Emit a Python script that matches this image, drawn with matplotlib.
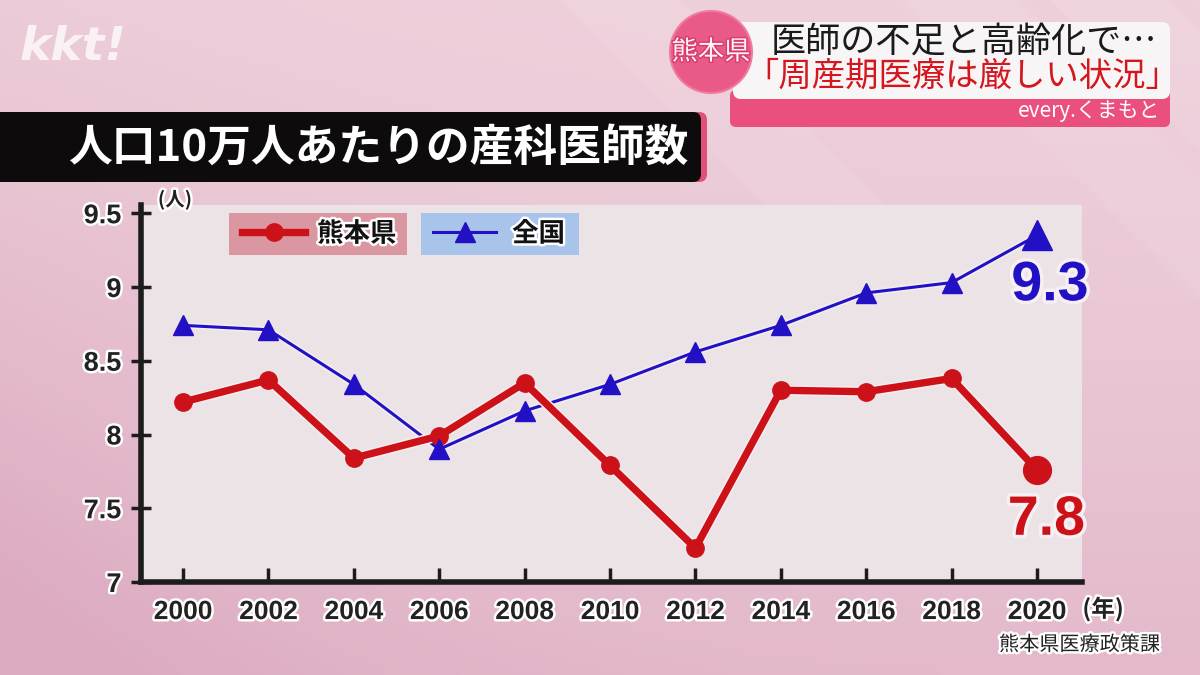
import numpy as np
import matplotlib
matplotlib.use("Agg")
import matplotlib.pyplot as plt
import matplotlib.patheffects as pe
from matplotlib.patches import FancyBboxPatch, Circle, Rectangle

plt.rcParams['font.family'] = ['Noto Sans CJK JP', 'DejaVu Sans']

# data
years = [2000, 2002, 2004, 2006, 2008, 2010, 2012, 2014, 2016, 2018, 2020]
kumamoto = [8.22, 8.37, 7.84, 7.99, 8.35, 7.79, 7.23, 8.30, 8.29, 8.38, 7.76]
national = [8.74, 8.71, 8.34, 7.90, 8.16, 8.34, 8.56, 8.74, 8.96, 9.03, 9.35]
yticks = [7, 7.5, 8, 8.5, 9, 9.5]
ytick_labels = ["7", "7.5", "8", "8.5", "9", "9.5"]
title = "人口10万人あたりの産科医師数"
red = "#cc1119"
blue = "#2211c4"
num_font = ["Liberation Sans", "DejaVu Sans"]

fig = plt.figure(figsize=(12, 6.75), dpi=100)

# background in pixel coordinates
bg = fig.add_axes([0, 0, 1, 1], zorder=0)
bg.set_xlim(0, 1200)
bg.set_ylim(675, 0)
bg.axis("off")
yy, xx = np.mgrid[0:1:135j, 0:1:240j]
c1 = np.array([238, 208, 219]) / 255
c2 = np.array([220, 170, 193]) / 255
t = np.clip(0.6 * yy ** 1.3 + 0.4 * (1 - xx) ** 3 * (0.3 + yy), 0, 1)[..., None]
grad = c1 * (1 - t) + c2 * t
bg.imshow(grad, extent=(0, 1200, 675, 0), aspect="auto", zorder=0)
# faint diagonal light bands
for x0 in [560, 900, 1050]:
    bg.fill([x0, x0 + 120, x0 + 420, x0 + 300], [0, 0, 300, 300],
            color="white", alpha=0.08, lw=0, zorder=1)

# kkt! logo
bg.text(20, 47, "kkt!", fontsize=34, fontweight="bold", style="italic",
        color="white", alpha=0.75, va="center", ha="left", family="DejaVu Sans")

# title bar
bg.add_patch(FancyBboxPatch((-20, 112), 727, 70, boxstyle="round,pad=0,rounding_size=8",
                            fc="#e0507a", ec="none", zorder=2))
bg.add_patch(FancyBboxPatch((-20, 112), 721, 70, boxstyle="round,pad=0,rounding_size=8",
                            fc="#0d0b0c", ec="none", zorder=3))
bg.text(378, 148, title, fontsize=31.5, fontweight="bold", color="white",
        ha="center", va="center", zorder=4)

# top right banner
bg.add_patch(FancyBboxPatch((730, 90), 440, 37, boxstyle="round,pad=0,rounding_size=6",
                            fc="#ea4f7e", ec="none", zorder=2))
bg.add_patch(FancyBboxPatch((733, 22), 437, 77, boxstyle="round,pad=0,rounding_size=8",
                            fc="#f8f5f6", ec="none", zorder=3))
bg.add_patch(Circle((711, 52), 41, fc="#ea5a86", ec="#f07aa0", lw=1.5, zorder=4))
bg.text(711, 52, "熊本県", fontsize=19, color="#fff4f7", ha="center", va="center", zorder=5,
        path_effects=[pe.withStroke(linewidth=2, foreground="#d83a6a")])
bg.text(964, 42, "医師の不足と高齢化で…", fontsize=25.3, color="#1a1a1a",
        ha="center", va="center", zorder=5)
bg.text(962, 76, "「周産期医療は厳しい状況」", fontsize=24, color="#d4161e",
        ha="center", va="center", zorder=5)
bg.text(1160, 111, "every.くまもと", fontsize=15, color="white",
        ha="right", va="center", zorder=5)

# main chart
ax = fig.add_axes([141 / 1200, 1 - 582 / 675, (1082 - 141) / 1200, (582 - 205) / 675], zorder=1)
ax.set_facecolor("#ece3e7")
ax.set_xlim(1999.016, 2021.054)
ax.set_ylim(7, 9.556)

halo = [pe.Stroke(linewidth=7.5, foreground="#f4eef0"), pe.Normal()]
ax.plot(years, national, color=blue, lw=2.2, zorder=3,
        path_effects=[pe.Stroke(linewidth=4.5, foreground="#f4eef0"), pe.Normal()])
ax.plot(years[:-1], national[:-1], ls="none", marker="^", ms=14, color=blue, zorder=6)
ax.plot(years[-1], national[-1], ls="none", marker="^", ms=21, color=blue, zorder=6)
ax.plot(years, kumamoto, color=red, lw=5.3, zorder=4, path_effects=halo)
ax.plot(years[:-1], kumamoto[:-1], ls="none", marker="o", ms=12.5, color=red, zorder=5)
ax.plot(years[-1], kumamoto[-1], ls="none", marker="o", ms=20, color=red, zorder=5)

outline = [pe.withStroke(linewidth=5, foreground="#f6f0f2")]
ax.text(years[-1] + 0.3, national[-1] - 0.44, f"{national[-1]:.1f}", fontsize=40,
        fontweight="bold", family=num_font, color=blue, ha="center", va="baseline",
        path_effects=outline, zorder=7)
ax.text(years[-1] + 0.22, kumamoto[-1] - 0.44, f"{kumamoto[-1]:.1f}", fontsize=40,
        fontweight="bold", family=num_font, color=red, ha="center", va="baseline",
        path_effects=outline, zorder=7)

for s in ["top", "right"]:
    ax.spines[s].set_visible(False)
for s in ["left", "bottom"]:
    ax.spines[s].set_linewidth(4)
    ax.spines[s].set_color("#1c1c1c")

lab_fx = [pe.withStroke(linewidth=3.5, foreground="white")]
ax.set_yticks(yticks)
ax.set_yticklabels(ytick_labels)
ax.set_xticks(years)
ax.set_xticklabels([str(y) for y in years])
ax.tick_params(axis="y", direction="inout", length=14, width=2.5, color="#1c1c1c",
               labelsize=19.5, pad=7)
ax.tick_params(axis="x", direction="in", length=10, width=2.5, color="#1c1c1c",
               labelsize=19, pad=13)
for lab in ax.get_yticklabels() + ax.get_xticklabels():
    lab.set_fontweight("bold")
    lab.set_family(num_font)
    lab.set_color("#222222")
    lab.set_path_effects(lab_fx)

ax.text(175, 200, "(人)", transform=bg.transData, fontsize=14, fontweight="bold",
        color="#222222", ha="center", va="center", path_effects=lab_fx, clip_on=False)
bg.text(1103, 609, "(年)", fontsize=17, fontweight="bold", color="#222222",
        ha="center", va="center", path_effects=lab_fx, zorder=5)
bg.text(1160, 645, "熊本県医療政策課", fontsize=14.5, color="#222222",
        ha="right", va="center", path_effects=lab_fx, zorder=5)

# legend boxes
ax.add_patch(Rectangle((229, 213), 178, 42, transform=bg.transData, fc="#db97a1",
                       ec="none", zorder=2, clip_on=False))
ax.add_patch(Rectangle((421, 213), 158, 42, transform=bg.transData, fc="#a9c4ea",
                       ec="none", zorder=2, clip_on=False))
leg_r = ax.legend([ax.lines[3]], ["熊本県"], loc="center left",
                  bbox_to_anchor=(242 / 1200, 1 - 234 / 675), bbox_transform=fig.transFigure,
                  frameon=False, handlelength=2.4, handletextpad=0.45, borderpad=0,
                  borderaxespad=0, prop={"size": 19, "weight": "bold"})
ax.add_artist(leg_r)
leg_r.legend_handles[0].set_marker("o")
leg_r.legend_handles[0].set_markersize(12.5)
leg_r.legend_handles[0].set_path_effects([])
leg_r.legend_handles[0].set_linewidth(5.3)
leg_b = ax.legend([ax.lines[0]], ["全国"], loc="center left",
                  bbox_to_anchor=(433 / 1200, 1 - 234 / 675), bbox_transform=fig.transFigure,
                  frameon=False, handlelength=2.4, handletextpad=0.6, borderpad=0,
                  borderaxespad=0, prop={"size": 19, "weight": "bold"})
leg_b.legend_handles[0].set_marker("^")
leg_b.legend_handles[0].set_markersize(14)
leg_b.legend_handles[0].set_path_effects([])
for lg in (leg_r, leg_b):
    lg.set_zorder(8)
    for tx in lg.get_texts():
        tx.set_path_effects([pe.withStroke(linewidth=3.5, foreground="white")])
        tx.set_color("#111111")

fig.savefig("out.png", dpi=100)
